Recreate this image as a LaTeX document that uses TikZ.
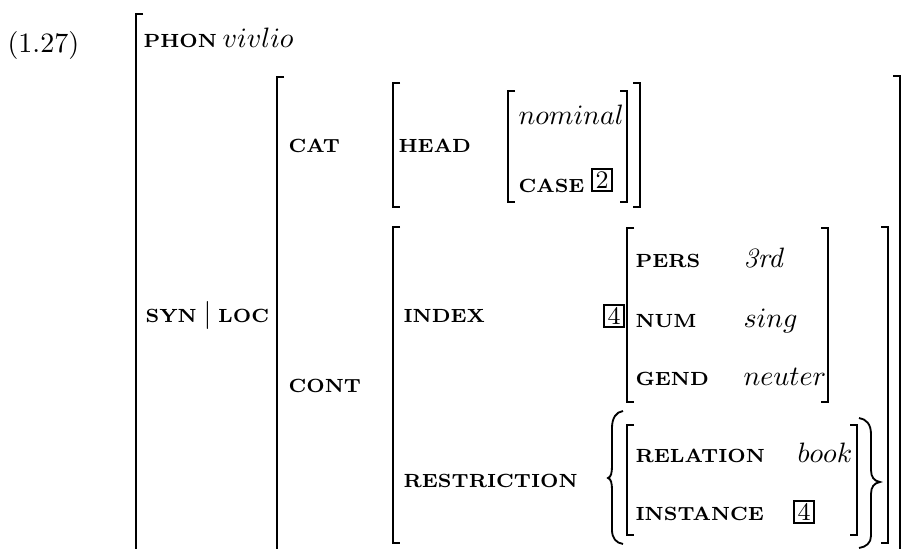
\documentclass[tikz,border=0pt]{standalone}
\usepackage{fontspec}
\usepackage{amsmath}
\usepackage{tikz}
\newcommand{\feat}[1]{{\fontsize{6.8}{8}\selectfont\bfseries\addfontfeature{LetterSpace=4}#1}}
\newcommand{\brL}[3]{%
  \draw[brk] (#1+7,#2) -- (#1,#2) -- (#1,#2+40);
  \draw[brkthin] (#1,#2+40) -- (#1,#3-40);
  \draw[brk] (#1,#3-40) -- (#1,#3) -- (#1+7,#3);}
\newcommand{\brR}[3]{%
  \draw[brk] (#1-7,#2) -- (#1,#2) -- (#1,#2+40);
  \draw[brkthin] (#1,#2+40) -- (#1,#3-40);
  \draw[brk] (#1,#3-40) -- (#1,#3) -- (#1-7,#3);}

\begin{document}
\begin{tikzpicture}[x=0.3565pt, y=-0.3565pt]
  \tikzset{lab/.style={anchor=base west, inner sep=0pt},
    tag/.style={draw, line width=0.7pt, inner sep=1pt, minimum width=7.4pt, minimum height=7.6pt, font=\small},
    brk/.style={line width=0.7pt},
    brkthin/.style={line width=0.4pt},
    curly/.style={line width=0.65pt}}
  \useasboundingbox (0,0) rectangle (906,549);
  \clip (0,0) rectangle (906,549);
  \node[lab] (ex) at (7,53) {(1.27)};
  \node[lab] (phon) at (143,48) {\feat{PHON}};
  \node[lab] (phonval) at (222,48) {$vivlio$};
  \node[lab] (synloc) at (145,323) {\feat{SYN}\hspace{2.4pt}$|$\hspace{2.4pt}\feat{LOC}};
  \node[lab] (cat) at (288,153) {\feat{CAT}};
  \node[lab] (head) at (398,153) {\feat{HEAD}};
  \node[lab] (headval) at (518,125) {$nominal$};
  \node[lab] (case) at (518,193) {\feat{CASE}};
  \node[tag] (caseval) at (602,180) {2};
  \node[lab] (cont) at (288,393) {\feat{CONT}};
  \node[lab] (index) at (403,323) {\feat{INDEX}};
  \node[tag] (indextag) at (614,316) {4};
  \node[lab] (pers) at (635,268) {\feat{PERS}};
  \node[lab] (persval) at (743,268) {\textit{3rd}};
  \node[lab] (num) at (635,327) {\feat{NUM}};
  \node[lab] (numval) at (743,327) {$sing$};
  \node[lab] (gend) at (635,385) {\feat{GEND}};
  \node[lab] (gendval) at (743,385) {$neuter$};
  \node[lab] (restr) at (403,488) {\feat{RESTRICTION}};
  \node[lab] (rel) at (635,462) {\feat{RELATION}};
  \node[lab] (relval) at (797,462) {$book$};
  \node[lab] (inst) at (635,520) {\feat{INSTANCE}};
  \node[tag] (instval) at (804,512) {4};
  \foreach \x/\t/\b in {136/14/600, 277/77/600, 393/83/207, 508/91/202,
                        393/227/543, 627/228/402, 627/425/535}
    {\brL{\x}{\t}{\b}}
  \foreach \x/\t/\b in {900/76/600, 640/83/207, 627/91/202,
                        888/227/543, 828/228/402, 857/425/535}
    {\brR{\x}{\t}{\b}}
  \draw[curly] (623,411) .. controls (616,412) and (612,418) .. (612,428)
    -- (612,466) .. controls (612,473) and (611,477) .. (608,478)
    .. controls (611,479) and (612,483) .. (612,490)
    -- (612,530) .. controls (612,538) and (616,543) .. (623,544);
  \draw[curly] (859,418) .. controls (866,419) and (871,424) .. (871,434)
    -- (871,470) .. controls (871,477) and (874,481) .. (880,482)
    .. controls (874,483) and (871,487) .. (871,494)
    -- (871,536) .. controls (871,543) and (866,547) .. (859,548);
\end{tikzpicture}
\end{document}
